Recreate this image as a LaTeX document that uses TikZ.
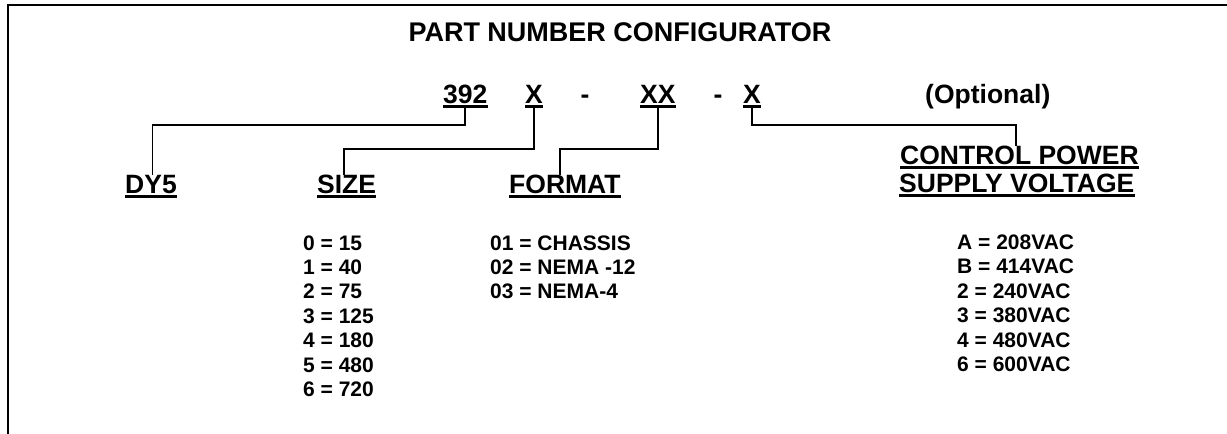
\documentclass[tikz,border=0pt]{standalone}
\usepackage{fontspec}
\setmainfont{Liberation Sans}
\usetikzlibrary{calc}
\tikzset{
  big/.style={font=\bfseries\fontsize{26.5}{28}\selectfont, inner sep=0pt, anchor=base west},
  lst/.style={font=\bfseries\fontsize{21}{24}\selectfont, inner sep=0pt, anchor=base west},
  conn/.style={line width=1.8pt, line cap=rect},
  uline/.style={line width=2.5pt},
  frame/.style={line width=2pt}
}
\newcommand{\ul}[1]{\draw[uline] ($(#1.base west)+(0,3.5)$) -- ($(#1.base east)+(0,3.5)$);}
\begin{document}
\begin{tikzpicture}[x=1pt,y=-1pt]
\useasboundingbox (0,0) rectangle (1227,434);
\draw[frame] (8,434) -- (8,5) -- (1227,5);

\node[big, anchor=base, font=\bfseries\fontsize{27}{29}\selectfont] (title) at (620,41) {PART NUMBER CONFIGURATOR};

\node[big] (n392) at (443,103) {392};
\node[big] (x1) at (525,103) {X};
\node[big, anchor=base] (d1) at (585,103) {-};
\node[big] (xx) at (640,103) {XX};
\node[big, anchor=base] (d2) at (718,103) {-};
\node[big] (x3) at (743,103) {X};
\node[big] (opt) at (925,103) {(Optional)};
\ul{n392}\ul{x1}\ul{xx}\ul{x3}

\node[big] (dy5) at (125,193) {DY5};
\node[big] (size) at (317,193) {SIZE};
\node[big] (format) at (509,193) {FORMAT};
\node[big] (cp1) at (900,164) {CONTROL POWER};
\node[big] (cp2) at (899,192) {SUPPLY VOLTAGE};
\ul{dy5}\ul{size}\ul{format}\ul{cp1}\ul{cp2}

\draw[conn] (n392.base) ++(0,3.5) -- ++(0,18.5) -| ($(dy5.north)+(1.5,0)$);
\draw[conn] (x1.base) ++(0,3.5) -- ++(0,42.5) -| ($(size.north)+(-3,0)$);
\draw[conn] (xx.base) ++(0,3.5) -- ++(0,42.5) -| ($(format.north)+(-5,0)$);
\draw[conn] (x3.base) ++(0,3.5) -- ++(0,18.5) -| ($(cp1.north)+(-3.5,0)$);

\foreach \t [count=\i from 0] in {0 = 15, 1 = 40, 2 = 75, 3 = 125, 4 = 180, 5 = 480, 6 = 720}
  \node[lst] (s\i) at (303,250+24.4*\i) {\t};
\foreach \t [count=\i from 0] in {01 = CHASSIS, 02 = NEMA -12, 03 = NEMA-4}
  \node[lst] (f\i) at (490,250+24.4*\i) {\t};
\foreach \t [count=\i from 0] in {A = 208VAC, B = 414VAC, 2 = 240VAC, 3 = 380VAC, 4 = 480VAC, 6 = 600VAC}
  \node[lst] (v\i) at (957,249.5+24.4*\i) {\t};
\end{tikzpicture}
\end{document}
